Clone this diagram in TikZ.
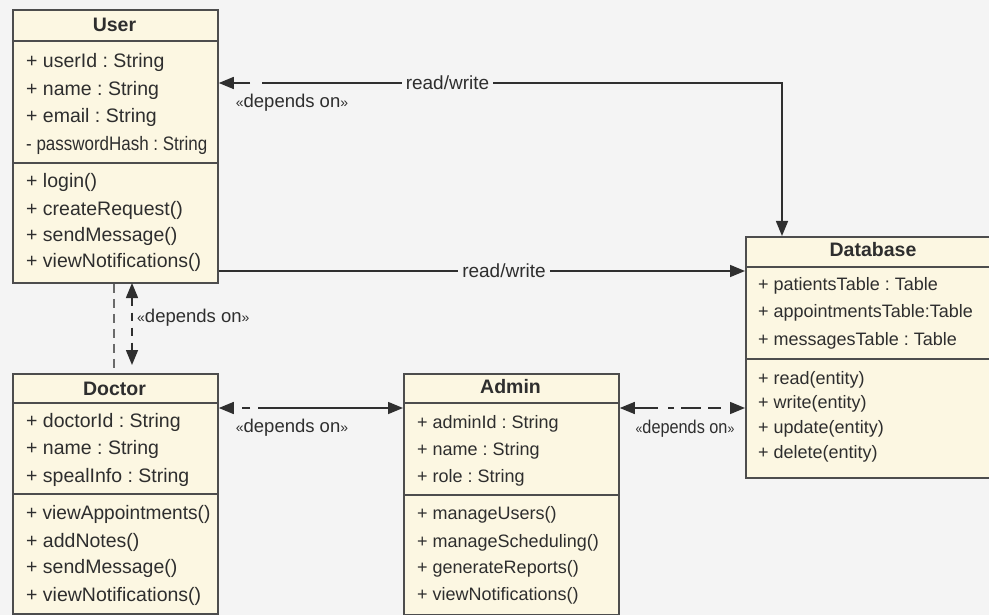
\documentclass[tikz,border=0pt]{standalone}
\usepackage{fontspec}
\setmainfont{Liberation Sans}
\usepackage{graphicx}
\usetikzlibrary{arrows.meta}
\frenchspacing
\definecolor{bg}{HTML}{F4F4F4}
\definecolor{boxfill}{HTML}{FCF7E2}
\definecolor{boxline}{HTML}{4D4D4D}
\definecolor{ink}{HTML}{2E2E2E}
\definecolor{conncol}{HTML}{2F2F2F}
\definecolor{grayline}{HTML}{6A6A6A}
\tikzset{
  classbox/.style={draw=boxline, fill=boxfill, line width=1.8pt, inner sep=0pt, anchor=north west},
  sepline/.style={draw=boxline, line width=1.5pt},
  titletext/.style={font=\bfseries\fontsize{19.5}{20}\selectfont, text=ink, anchor=base, inner sep=0pt},
  row/.style={anchor=base west, inner sep=0pt, text=ink},
  bigrow/.style={row, font=\fontsize{19.5}{20}\selectfont},
  smallrow/.style={row, font=\fontsize{18}{19}\selectfont},
  conn/.style={draw=conncol, line width=1.5pt},
  rwlabel/.style={font=\fontsize{19}{20}\selectfont, text=ink, inner sep=4pt},
  deplabel/.style={font=\fontsize{18.5}{20}\selectfont, text=ink, inner sep=0pt},
  tri/.tip={Triangle[length=15pt,width=12pt]}
}
\newcommand{\gl}{{\fontsize{14}{14}\selectfont «}}
\newcommand{\gr}{{\fontsize{14}{14}\selectfont »}}
\begin{document}
\begin{tikzpicture}[x=1pt,y=-1pt]
\useasboundingbox (0,0) rectangle (989,615);
\clip (0,0) rectangle (989,615);
\fill[bg] (0,0) rectangle (989,615);

% ---------- User ----------
\node[classbox, minimum width=205pt, minimum height=273pt] (user) at (12,9) {};
\draw[sepline] (user.west |- 0,41) -- (user.east |- 0,41);
\draw[sepline] (user.west |- 0,163) -- (user.east |- 0,163);
\node[titletext] (ut) at (114.5,32) {User};
\node[bigrow] (u1) at (26,68) {+ userId : String};
\node[bigrow] (u2) at (26,96) {+ name : String};
\node[bigrow] (u3) at (26,123) {+ email : String};
\node[bigrow] (u4) at (26,151) {\scalebox{0.87}[1]{- passwordHash : String}};
\node[bigrow] (u5) at (26,188) {+ login()};
\node[bigrow] (u6) at (26,215) {+ createRequest()};
\node[bigrow] (u7) at (26,241) {+ sendMessage()};
\node[bigrow] (u8) at (26,268) {+ viewNotifications()};

% ---------- Doctor ----------
\node[classbox, minimum width=205pt, minimum height=240pt] (doctor) at (12,373) {};
\draw[sepline] (doctor.west |- 0,403) -- (doctor.east |- 0,403);
\draw[sepline] (doctor.west |- 0,494) -- (doctor.east |- 0,494);
\node[titletext] (dt) at (114.5,395) {Doctor};
\node[bigrow] (d1) at (26,427) {+ doctorId : String};
\node[bigrow] (d2) at (26,454) {+ name : String};
\node[bigrow] (d3) at (26,482) {+ spealInfo : String};
\node[bigrow] (d4) at (26,519) {\scalebox{0.98}[1]{+ viewAppointments()}};
\node[bigrow] (d5) at (26,547) {+ addNotes()};
\node[bigrow] (d6) at (26,573) {+ sendMessage()};
\node[bigrow] (d7) at (26,601) {+ viewNotifications()};

% ---------- Admin ----------
\node[classbox, minimum width=215pt, minimum height=241pt] (admin) at (403,373) {};
\draw[sepline] (admin.west |- 0,403) -- (admin.east |- 0,403);
\draw[sepline] (admin.west |- 0,495) -- (admin.east |- 0,495);
\node[titletext] (at) at (510.5,393) {Admin};
\node[smallrow] (a1) at (417,428) {+ adminId : String};
\node[smallrow] (a2) at (417,455) {+ name : String};
\node[smallrow] (a3) at (417,482) {+ role : String};
\node[smallrow] (a4) at (417,519) {+ manageUsers()};
\node[smallrow] (a5) at (417,547) {+ manageScheduling()};
\node[smallrow] (a6) at (417,573) {+ generateReports()};
\node[smallrow] (a7) at (417,600) {+ viewNotifications()};

% ---------- Database ----------
\node[classbox, minimum width=256pt, minimum height=241pt] (db) at (745,236) {};
\draw[sepline] (db.west |- 0,267) -- (db.east |- 0,267);
\draw[sepline] (db.west |- 0,359) -- (db.east |- 0,359);
\node[titletext] (dbt) at (873,257) {Database};
\node[smallrow] (b1) at (758,290) {+ patientsTable : Table};
\node[smallrow] (b2) at (758,317) {+ appointmentsTable:Table};
\node[smallrow] (b3) at (758,345) {+ messagesTable : Table};
\node[smallrow] (b4) at (758,384) {+ read(entity)};
\node[smallrow] (b5) at (758,408) {+ write(entity)};
\node[smallrow] (b6) at (758,433) {+ update(entity)};
\node[smallrow] (b7) at (758,458) {+ delete(entity)};

% ---------- connectors ----------
% top read/write (User <- ... -> Database)
\node[rwlabel] (rw1) at (447.5,83) {read/write};
\coordinate (cA) at (262,83);
\coordinate (cB) at (250,83);
\coordinate (cD) at (782,83);
\draw[conn] (rw1.west) -- (cA);
\draw[conn, -{tri}] (cB) -- (user.east |- cB);
\draw[conn, -{tri}] (rw1.east) -- (cD) -- (cD |- db.north);
\node[deplabel] (dep1) at (292,103) {\gl depends on\gr};

% middle read/write (User -> Database)
\node[rwlabel] (rw2) at (504,271) {read/write};
\draw[conn] (user.east |- rw2) -- (rw2.west);
\draw[conn, -{tri}] (rw2.east) -- (db.west |- rw2);

% User <-> Doctor
\coordinate (ul) at (114,0);
\coordinate (ua) at (132,283);
\coordinate (dtip) at (132,365);
\draw[draw=grayline, line width=1.5pt, dash pattern=on 9pt off 6pt] (user.south -| ul) -- (doctor.north -| ul);
\draw[conn, dash pattern=on 8pt off 7pt, {tri}-{tri}] (ua) -- (dtip);
\node[deplabel, anchor=west] (dep2) at (137,318) {\gl depends on\gr};

% Doctor <-> Admin
\coordinate (da) at (258,408);
\draw[conn, -{tri}] (da) -- (admin.west |- da);
\draw[conn, dash pattern=on 0pt off 8pt on 8pt off 30pt, -{tri}] (da) -- (doctor.east |- da);
\node[deplabel] (dep3) at (292,428) {\gl depends on\gr};

% Admin <-> Database
\coordinate (ad) at (618,408);
\draw[conn, dash pattern=on 24pt off 10pt on 6pt off 7pt on 20pt off 7pt on 13pt off 10pt, {tri}-{tri}] (admin.east |- ad) -- (db.west |- ad);
\node[deplabel] (dep4) at (685,429) {\scalebox{0.88}[1]{\gl depends on\gr}};
\end{tikzpicture}
\end{document}
